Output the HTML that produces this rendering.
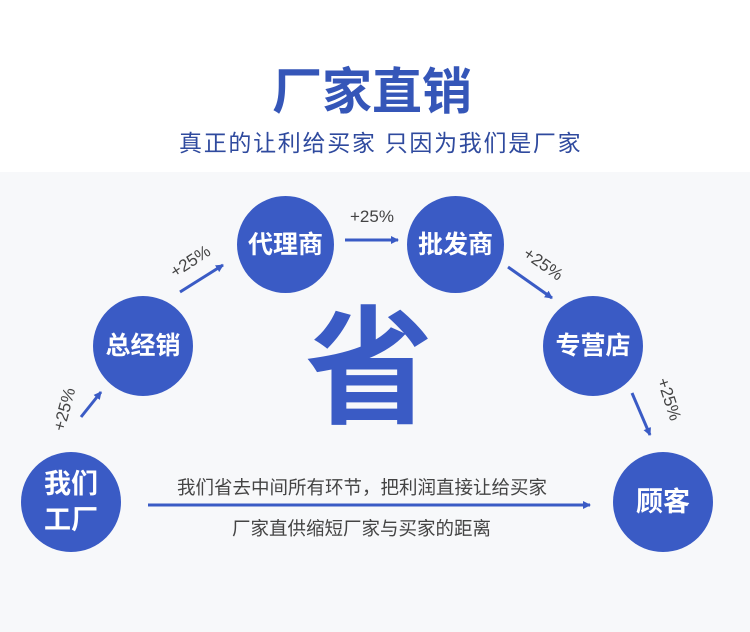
<!DOCTYPE html>
<html><head><meta charset="utf-8"><style>
body{margin:0;width:750px;height:632px;position:relative;background:#fff;font-family:"Liberation Sans","Noto Sans CJK SC",sans-serif;overflow:hidden}
.bg{position:absolute;left:0;top:172px;width:750px;height:460px;background:#f7f8fa}
.t{position:absolute;white-space:nowrap}
.c{position:absolute;border-radius:50%;background:#3a5bc5;color:#fff;display:flex;align-items:center;justify-content:center;text-align:center;font-weight:bold;font-size:25px;line-height:34px}
</style></head><body>
<div class="bg"></div>
<div class="t" style="left:272px;top:52px;font-size:50px;font-weight:bold;color:#3556b8">厂家直销</div>
<div class="t" style="left:179px;top:124px;font-size:23px;color:#2f4a9e;letter-spacing:1.7px">真正的让利给买家 只因为我们是厂家</div>
<svg width="750" height="632" style="position:absolute;left:0;top:0">
<defs><marker id="a" markerWidth="8" markerHeight="8" refX="7" refY="4" orient="auto" markerUnits="userSpaceOnUse"><path d="M0,0 L8,4 L0,8 Z" fill="#3a5bc5"/></marker></defs>
<g stroke="#3a5bc5" stroke-width="3" fill="none">
<line x1="81" y1="417" x2="101" y2="392" marker-end="url(#a)"/>
<line x1="180" y1="292" x2="223" y2="265" marker-end="url(#a)"/>
<line x1="345" y1="240" x2="398" y2="240" marker-end="url(#a)"/>
<line x1="508" y1="267" x2="552" y2="298" marker-end="url(#a)"/>
<line x1="632" y1="393" x2="650" y2="435" marker-end="url(#a)"/>
<line x1="148" y1="505" x2="590" y2="505" marker-end="url(#a)"/>
</g>
<g fill="#444" font-size="17" font-family="Liberation Sans,sans-serif">
<text x="350" y="222">+25%</text>
<text transform="translate(175,278) rotate(-33)">+25%</text>
<text transform="translate(522,256) rotate(35)">+25%</text>
<text transform="translate(64,432) rotate(-75)">+25%</text>
<text transform="translate(657,380) rotate(72)">+25%</text>
</g>
</svg>
<div class="c" style="left:237px;top:196px;width:97px;height:97px">代理商</div>
<div class="c" style="left:407px;top:196px;width:97px;height:97px">批发商</div>
<div class="c" style="left:93px;top:296px;width:100px;height:100px">总经销</div>
<div class="c" style="left:543px;top:296px;width:100px;height:100px">专营店</div>
<div class="c" style="left:21px;top:452px;width:100px;height:100px;font-size:27px;line-height:36px">我们<br>工厂</div>
<div class="c" style="left:613px;top:452px;width:100px;height:100px;font-size:27px">顾客</div>
<div class="t" style="left:305px;top:300px;font-size:128px;font-weight:bold;color:#3a5bc5;line-height:140px">省</div>
<div class="t" style="left:177px;top:474px;font-size:18.5px;color:#444">我们省去中间所有环节，把利润直接让给买家</div>
<div class="t" style="left:232px;top:515px;font-size:18.5px;color:#444">厂家直供缩短厂家与买家的距离</div>
</body></html>
